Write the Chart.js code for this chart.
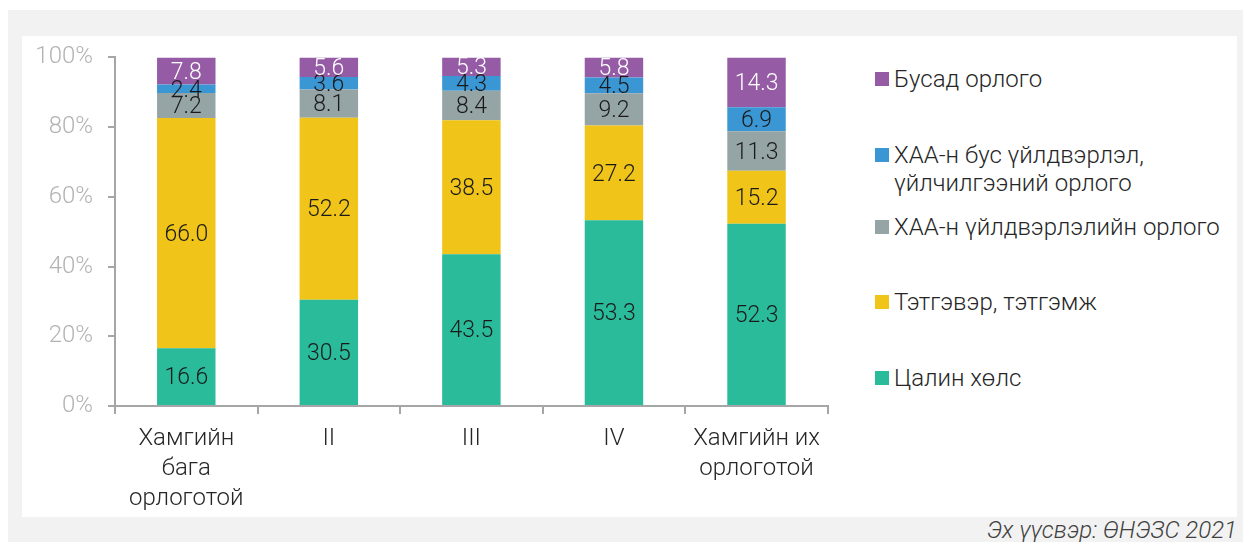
<!DOCTYPE html>
<html>
<head>
<meta charset="utf-8">
<script src="https://cdn.jsdelivr.net/npm/chart.js@4"></script>
<style>
  html, body { margin: 0; padding: 0; background: #fff; }
  body { width: 1243px; height: 542px; position: relative; overflow: hidden; font-family: Roboto, sans-serif; }
  #panel { position: absolute; left: 8px; top: 10px; width: 1235px; height: 532px; background: #f2f2f2; }
  #box { position: absolute; left: 22px; top: 36px; width: 1215px; height: 481px; background: #fff; }
  #wrap { position: absolute; left: 22px; top: 28px; width: 808px; height: 488px; }
  #legend { position: absolute; left: 875px; top: 0; }
  .item { position: absolute; left: 0; white-space: nowrap; font-size: 24px; font-weight: 300; color: #262626; line-height: 28px; }
  .item i { position: absolute; left: 0; top: 7px; width: 14px; height: 14px; }
  .item span { display: block; padding-left: 19px; }
  #source { position: absolute; right: 6px; top: 516px; font-size: 24px; font-style: italic; font-weight: 300; color: #404040; line-height: 28px; }
</style>
</head>
<body>
<div id="panel"></div>
<div id="box"></div>
<div id="wrap"><canvas id="chart"></canvas></div>
<div id="legend"></div>
<div id="source">Эх үүсвэр: ӨНЭЗС 2021</div>
<script>
const categories = [['Хамгийн', 'бага', 'орлоготой'], 'II', 'III', 'IV', ['Хамгийн их', 'орлоготой']];
const seriesNames = ['Цалин хөлс', 'Тэтгэвэр, тэтгэмж', 'ХАА-н үйлдвэрлэлийн орлого', 'ХАА-н бус үйлдвэрлэл, үйлчилгээний орлого', 'Бусад орлого'];
const salary    = [16.6, 30.5, 43.5, 53.3, 52.3];
const pension   = [66.0, 52.2, 38.5, 27.2, 15.2];
const agri      = [7.2, 8.1, 8.4, 9.2, 11.3];
const nonAgri   = [2.4, 3.6, 4.3, 4.5, 6.9];
const other     = [7.8, 5.6, 5.3, 5.8, 14.3];
const yTicks    = [0, 20, 40, 60, 80, 100];

const COLORS = ['#2abb9b', '#f0c419', '#95a5a6', '#3a97d4', '#955ba5'];
const LABEL_COLORS = ['#1a1a1a', '#1a1a1a', '#1a1a1a', '#1a1a1a', '#ffffff'];
const FONT = 'Roboto, sans-serif';
const AXIS = '#a6a6a6';

// legend (top to bottom), positions in px from page top
const legendRows = [
  { idx: 4, top: 65, lines: ['Бусад орлого'] },
  { idx: 3, top: 141, lines: ['ХАА-н бус үйлдвэрлэл,', 'үйлчилгээний орлого'] },
  { idx: 2, top: 213, lines: ['ХАА-н үйлдвэрлэлийн орлого'] },
  { idx: 1, top: 288, lines: ['Тэтгэвэр, тэтгэмж'] },
  { idx: 0, top: 364, lines: ['Цалин хөлс'] }
];
const legendEl = document.getElementById('legend');
legendRows.forEach(r => {
  const d = document.createElement('div');
  d.className = 'item';
  d.style.top = r.top + 'px';
  d.innerHTML = '<i style="background:' + COLORS[r.idx] + '"></i><span>' + r.lines.join('<br>') + '</span>';
  legendEl.appendChild(d);
});

const segLabels = {
  id: 'segLabels',
  afterDatasetsDraw(chart) {
    const ctx = chart.ctx;
    ctx.save();
    ctx.font = '300 23px ' + FONT;
    ctx.textAlign = 'center';
    ctx.textBaseline = 'middle';
    chart.data.datasets.forEach((ds, i) => {
      const meta = chart.getDatasetMeta(i);
      ctx.fillStyle = LABEL_COLORS[i];
      meta.data.forEach((bar, j) => {
        const p = bar.getProps(['x', 'y', 'base'], true);
        ctx.fillText(ds.data[j].toFixed(1), p.x, (p.y + p.base) / 2 + 2);
      });
    });
    ctx.restore();
  }
};

const series = [salary, pension, agri, nonAgri, other];

new Chart(document.getElementById('chart'), {
  type: 'bar',
  data: {
    labels: categories,
    datasets: series.map((data, i) => ({
      label: seriesNames[i],
      data,
      backgroundColor: COLORS[i],
      borderWidth: 0,
      barPercentage: 0.41,
      categoryPercentage: 1
    }))
  },
  options: {
    responsive: true,
    maintainAspectRatio: false,
    animation: false,
    layout: { padding: { top: 16, right: 1, left: 0, bottom: 0 } },
    plugins: { legend: { display: false }, tooltip: { enabled: false } },
    scales: {
      x: {
        stacked: true,
        grid: { display: true, drawOnChartArea: false, drawTicks: true, tickLength: 8, color: AXIS, lineWidth: 2 },
        border: { display: true, color: AXIS, width: 2 },
        ticks: { font: { family: FONT, size: 24, weight: 300, lineHeight: 1.25 }, color: '#262626', padding: 10, maxRotation: 0, autoSkip: false },
        afterFit: s => { s.height = 110; }
      },
      y: {
        stacked: true,
        min: 0, max: 100,
        afterBuildTicks: s => { s.ticks = yTicks.map(v => ({ value: v })); },
        grid: { display: true, drawOnChartArea: false, drawTicks: true, tickLength: 7, color: AXIS, lineWidth: 2 },
        border: { display: true, color: AXIS, width: 2 },
        ticks: { font: { family: FONT, size: 24, weight: 300 }, color: '#b3b3b3', padding: 15, callback: v => v + '%' },
        afterFit: s => { s.width = 93; }
      }
    }
  },
  plugins: [segLabels]
});
</script>
</body>
</html>
